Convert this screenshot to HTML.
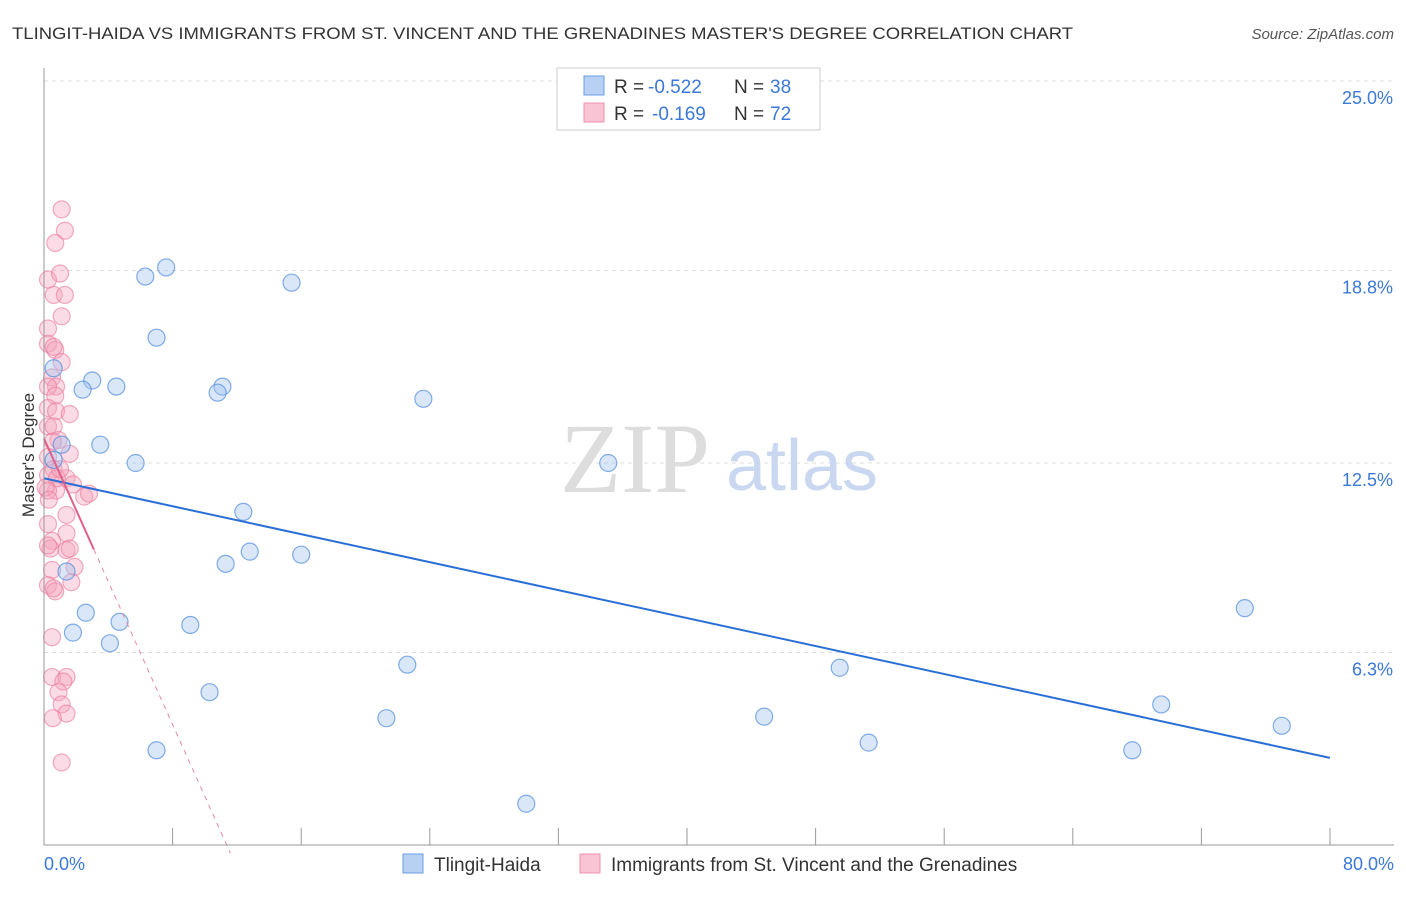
<!DOCTYPE html>
<html><head><meta charset="utf-8"><style>
body{margin:0;background:#fff;font-family:"Liberation Sans",sans-serif}
</style></head><body>
<svg width="1406" height="892" xmlns="http://www.w3.org/2000/svg" font-family="Liberation Sans, sans-serif">
<text x="12" y="39" font-size="17" fill="#333" textLength="1061" lengthAdjust="spacingAndGlyphs">TLINGIT-HAIDA VS IMMIGRANTS FROM ST. VINCENT AND THE GRENADINES MASTER'S DEGREE CORRELATION CHART</text>
<text x="1394" y="39" font-size="15" fill="#555" text-anchor="end" font-style="italic">Source: ZipAtlas.com</text>
<g id="grid"></g>
<text x="635" y="492" font-size="100" fill="#ddd" font-family="Liberation Serif, serif" text-anchor="middle">ZIP</text>
<text x="802" y="490" font-size="72" fill="#c9d8f0" text-anchor="middle">atlas</text>
<g id="pts"></g>
<g id="lines"></g>
<line x1="44" y1="68" x2="44" y2="845" stroke="#999"/>
<line x1="44" y1="845" x2="1394" y2="845" stroke="#999"/>
<g id="xt"></g>
<text x="34" y="455" font-size="17" fill="#333" text-anchor="middle" transform="rotate(-90 34 455)">Master's Degree</text>
<text x="44" y="870" font-size="18" fill="#3b78d8">0.0%</text>
<text x="1394" y="870" font-size="18" fill="#3b78d8" text-anchor="end">80.0%</text>
<g>
<rect x="557" y="68" width="263" height="62" fill="#fff" stroke="#ccc"/>
<rect x="584" y="76" width="20" height="19" fill="#b8d0f4" stroke="#6a9ee6"/>
<rect x="584" y="103" width="20" height="19" fill="#f9c4d4" stroke="#ee8fac"/>
<text x="614" y="93" font-size="19" fill="#333">R =</text>
<text x="648" y="93" font-size="19" fill="#3b78d8">-0.522</text>
<text x="734" y="93" font-size="19" fill="#333">N =</text>
<text x="770" y="93" font-size="19" fill="#3b78d8">38</text>
<text x="614" y="120" font-size="19" fill="#333">R =</text>
<text x="652" y="120" font-size="19" fill="#3b78d8">-0.169</text>
<text x="734" y="120" font-size="19" fill="#333">N =</text>
<text x="770" y="120" font-size="19" fill="#3b78d8">72</text>
</g>
<g>
<rect x="403" y="854" width="20" height="19" fill="#b8d0f4" stroke="#6a9ee6"/>
<text x="434" y="871" font-size="19" fill="#333">Tlingit-Haida</text>
<rect x="580" y="854" width="20" height="19" fill="#f9c4d4" stroke="#ee8fac"/>
<text x="611" y="871" font-size="19" fill="#333">Immigrants from St. Vincent and the Grenadines</text>
</g>
</svg>
<script>
const yTicks=[25.0,18.8,12.5,6.3];
const yTickLabels=["25.0%","18.8%","12.5%","6.3%"];
const blueX=[0.6,6.3,7.6,15.4,7.0,3.0,4.5,2.4,11.1,10.8,23.6,3.5,1.1,5.7,35.1,0.6,12.4,12.8,16.0,11.3,1.4,74.7,2.6,4.7,9.1,1.8,4.1,22.6,49.5,10.3,69.5,21.3,44.8,77.0,51.3,7.0,67.7,30.0];
const blueY=[15.6,18.6,18.9,18.4,16.6,15.2,15.0,14.9,15.0,14.8,14.6,13.1,13.1,12.5,12.5,12.6,10.9,9.6,9.5,9.2,8.95,7.75,7.6,7.3,7.2,6.95,6.6,5.9,5.8,5.0,4.6,4.15,4.2,3.9,3.35,3.1,3.1,1.35];
const pinkX=[1.1,1.3,0.7,0.25,1.0,0.6,1.3,1.1,0.25,0.25,0.7,0.6,1.1,0.5,0.75,0.25,0.7,0.25,0.75,1.6,0.25,0.6,0.9,0.55,0.25,1.6,0.6,0.25,1.4,0.75,0.25,2.5,2.8,0.8,1.8,1.4,0.25,1.4,0.5,0.4,0.25,1.4,1.6,0.5,1.9,1.7,0.25,0.7,0.6,0.5,0.5,1.4,1.2,0.9,1.1,1.4,0.55,1.1,0.1,1.0,0.3];
const pinkY=[20.8,20.1,19.7,18.5,18.7,18.0,18.0,17.3,16.9,16.4,16.2,16.3,15.8,15.3,15.0,15.0,14.7,14.3,14.2,14.1,13.7,13.7,13.25,13.2,12.7,12.8,12.3,12.1,12.0,11.6,11.6,11.4,11.5,12.0,11.8,10.8,10.5,10.2,9.95,9.7,9.8,9.65,9.7,9.0,9.1,8.6,8.5,8.3,8.4,6.8,5.5,5.5,5.35,5.0,4.6,4.3,4.15,2.7,11.7,12.3,11.3];
const blueLine=[12.0,2.85];
const pinkLine=[13.3,-1.17];
const X=v=>44+v*16.075, Y=v=>845-v*30.56;
const NS="http://www.w3.org/2000/svg";
function mk(t,a,p){const e=document.createElementNS(NS,t);for(const k in a)e.setAttribute(k,a[k]);p.appendChild(e);return e;}
const grid=document.getElementById('grid');
yTicks.forEach((t,i)=>{
 const l=mk('line',{x1:44,x2:1394,y1:Y(t),y2:Y(t),stroke:'#ddd','stroke-dasharray':'4,4'},grid);
 
 
 const tx=mk('text',{x:1393,y:Y(t)+23,'font-size':18,fill:'#3b78d8','text-anchor':'end'},grid);
 tx.textContent=yTickLabels[i];
 
 
});
const xt=document.getElementById('xt');
for(let i=1;i<=10;i++){const l=mk('line',{x1:X(i*8),x2:X(i*8),y1:828,y2:845,stroke:'#999'},xt);
 
 }
const pts=document.getElementById('pts');
pinkX.forEach((x,i)=>{const c=mk('circle',{cx:X(x),cy:Y(pinkY[i]),r:8.5,fill:'rgba(246,165,190,0.4)',stroke:'rgba(232,120,155,0.6)','stroke-width':1.2},pts);
 
 });
blueX.forEach((x,i)=>{const c=mk('circle',{cx:X(x),cy:Y(blueY[i]),r:8.5,fill:'rgba(160,195,240,0.4)',stroke:'rgba(80,140,220,0.7)','stroke-width':1.2},pts);
 
 });
const lines=document.getElementById('lines');
let b=mk('line',{x1:X(0),y1:Y(blueLine[0]),x2:X(80),y2:Y(blueLine[1]),stroke:'#2a6fd6','stroke-width':2},lines);


const px=x=>pinkLine[0]+pinkLine[1]*x;
let p1=mk('line',{x1:X(0),y1:Y(px(0)),x2:X(3.1),y2:Y(px(3.1)),stroke:'#e0608a','stroke-width':2},lines);


let p2=mk('line',{x1:X(3.1),y1:Y(px(3.1)),x2:X(11.6),y2:Y(px(11.6)),stroke:'#e888a8','stroke-width':1,'stroke-dasharray':'5,5'},lines);


</script>
</body></html>
